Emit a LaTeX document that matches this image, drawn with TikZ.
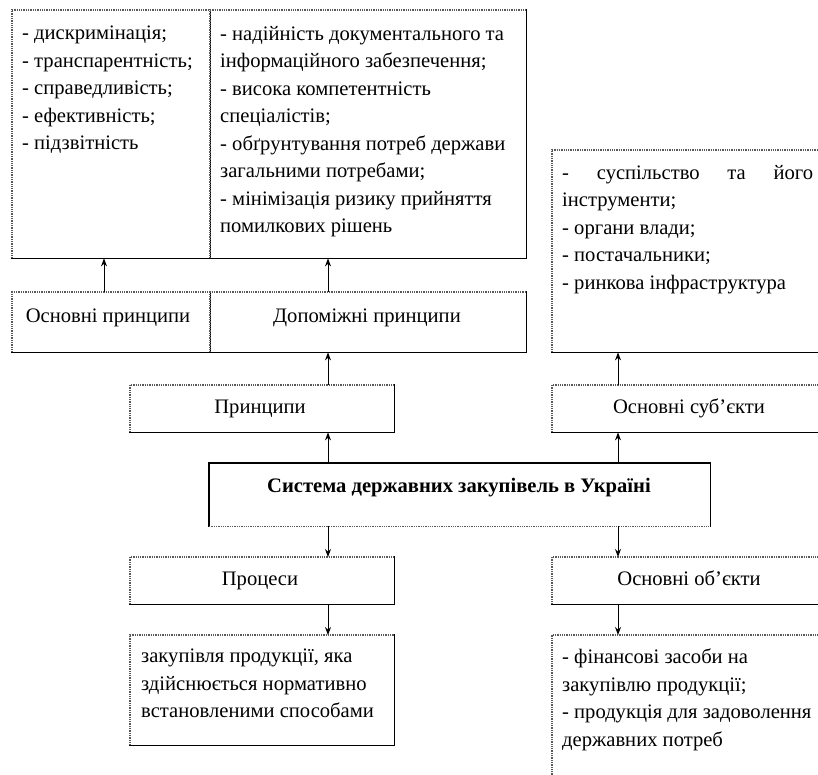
\documentclass[tikz,border=0pt]{standalone}
\usepackage{fontspec}
\setmainfont{Liberation Serif}
\usepackage{tikz}
\usetikzlibrary{arrows, arrows.meta, positioning, calc}
\tikzset{>={Stealth[length=8pt,width=6pt]}}
\newcommand{\boxfont}{\fontsize{20.6}{27.5}\selectfont}
\tikzset{
	cell/.style={draw=none, inner sep=0pt, anchor=north west},
	txt/.style={inner sep=0pt, anchor=north west, align=left, font=\boxfont},
	lbl/.style={inner sep=0pt, anchor=base, font=\boxfont},
	link/.style={->, line width=1pt},
	dotedge/.style={black!65, densely dotted, line width=1.3pt},
	solidedge/.style={black, line width=1.2pt, line cap=rect}
}

\begin{document}
\begin{tikzpicture}[x=1pt, y=-1pt]

	\clip (0,0) rectangle (818,774);
	\fill[white] (0,0) rectangle (818,774);

	% cells
	\node[cell, minimum width=198pt, minimum height=248pt] (osnlist) at (12,10) {};
	\node[cell, minimum width=316pt, minimum height=248pt] (doplist) at (210,10) {};
	\node[cell, minimum width=198pt, minimum height=60pt] (osn) at (12,292) {};
	\node[cell, minimum width=316pt, minimum height=60pt] (dop) at (210,292) {};
	\node[cell, minimum width=274pt, minimum height=202pt] (sublist) at (552,150) {};
	\node[cell, minimum width=264pt, minimum height=47pt] (prin) at (130,385) {};
	\node[cell, minimum width=274pt, minimum height=47pt] (sub) at (552,385) {};
	\node[cell, minimum width=501pt, minimum height=63pt] (sys) at (209,463) {};
	\node[cell, minimum width=264pt, minimum height=47pt] (proc) at (130,557) {};
	\node[cell, minimum width=274pt, minimum height=47pt] (obj) at (552,557) {};
	\node[cell, minimum width=264pt, minimum height=110pt] (proclist) at (130,635) {};
	\node[cell, minimum width=274pt, minimum height=160pt] (objlist) at (552,635) {};

	\foreach \n in {osnlist, doplist, osn, dop, sublist, prin, sub, proc, obj, proclist, objlist} {
		\draw[dotedge] (\n.south west) -- (\n.north west) -- (\n.north east);
		\draw[solidedge] (\n.north east) -- (\n.south east) -- (\n.south west);
	}
	\draw[solidedge] (sys.south west) -- (sys.north west) -- (sys.north east) -- (sys.south east);
	\draw[dotedge] (sys.south west) -- (sys.south east);

	% texts
	\node[txt] (osnlisttxt) at (22,26) {- дискримінація;\\- транспарентність;\\- справедливість;\\- ефективність;\\- підзвітність};
	\node[txt] (doplisttxt) at (220,26) {- надійність документального та\\інформаційного забезпечення;\\- висока компетентність\\спеціалістів;\\- обґрунтування потреб держави\\загальними потребами;\\- мінімізація ризику прийняття\\помилкових рішень};
	\node[txt, text width=251pt, align=justify] (sublisttxt) at (562,165) {-\hfill суспільство\hfill та\hfill його\\інструменти;\\- органи влади;\\- постачальники;\\- ринкова інфраструктура};
	\node[txt] (proclisttxt) at (141,649) {закупівля продукції, яка\\здійснюється нормативно\\встановленими способами};
	\node[txt] (objlisttxt) at (562,649) {- фінансові засоби на\\закупівлю продукції;\\- продукція для задоволення\\державних потреб};

	\node[lbl] (osntxt) at (108,322) {Основні принципи};
	\node[lbl] (doptxt) at (367,322) {Допоміжні принципи};
	\node[lbl] (printxt) at (260,413) {Принципи};
	\node[lbl] (subtxt) at (689,413) {Основні суб’єкти};
	\node[lbl, font=\boxfont\bfseries] (systxt) at (459,492) {Система державних закупівель в Україні};
	\node[lbl] (proctxt) at (260,585) {Процеси};
	\node[lbl] (objtxt) at (689,585) {Основні об’єкти};

	% arrows
	\coordinate (lcol) at (328,0);
	\coordinate (rcol) at (618,0);
	\coordinate (ocol) at (104,0);

	\draw[link] (osn.north -| ocol) -- (osnlist.south -| ocol);
	\draw[link] (dop.north -| lcol) -- (doplist.south -| lcol);
	\draw[link] (prin.north -| lcol) -- (dop.south -| lcol);
	\draw[link] (sys.north -| lcol) -- (prin.south -| lcol);
	\draw[link] (sys.north -| rcol) -- (sub.south -| rcol);
	\draw[link] (sub.north -| rcol) -- (sublist.south -| rcol);
	\draw[link] (sys.south -| lcol) -- (proc.north -| lcol);
	\draw[link] (proc.south -| lcol) -- (proclist.north -| lcol);
	\draw[link] (sys.south -| rcol) -- (obj.north -| rcol);
	\draw[link] (obj.south -| rcol) -- (objlist.north -| rcol);

\end{tikzpicture}
\end{document}
